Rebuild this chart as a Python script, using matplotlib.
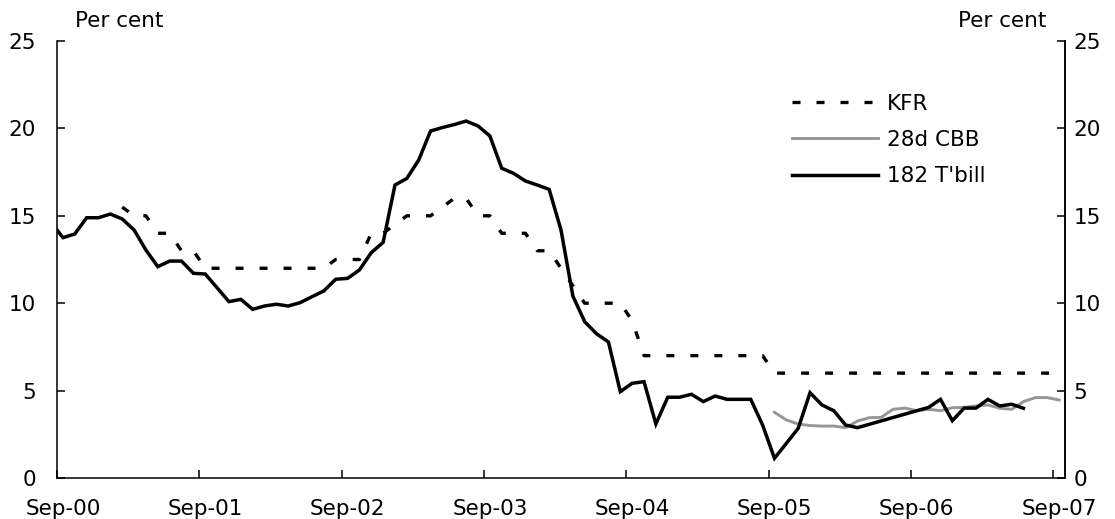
import numpy as np
import pandas as pd
import matplotlib
matplotlib.use("Agg")
import matplotlib.pyplot as plt

plt.rcParams["font.family"] = ["DejaVu Sans"]

# Monthly series (months counted from Sep-00)
tbill_start = pd.Period("2000-08", "M")
tbill = [14.63, 13.75, 13.96, 14.89, 14.89, 15.10, 14.82, 14.19, 13.04, 12.09,
         12.41, 12.41, 11.71, 11.67, 10.88, 10.09, 10.22, 9.65, 9.84, 9.94,
         9.84, 10.03, 10.37, 10.70, 11.37, 11.42, 11.90, 12.89, 13.48, 16.76,
         17.14, 18.19, 19.85, 20.05, 20.22, 20.42, 20.14, 19.57, 17.72, 17.43,
         16.99, 16.76, 16.51, 14.19, 10.41, 8.94, 8.25, 7.78, 4.94, 5.42,
         5.51, 3.09, 4.62, 4.62, 4.79, 4.37, 4.69, 4.50, 4.50, 4.50,
         3.03, 1.13, 1.98, 2.84, 4.88, 4.18, 3.85, 3.03, 2.88, None,
         None, None, None, None, 4.04, 4.50, 3.28, 4.00, 4.00, 4.50,
         4.12, 4.22, 3.99]

kfr_start = pd.Period("2001-02", "M")
kfr = [15.5, 15.0, 15.0, 14.0, 14.0, 13.0, 13.0,
       12.0, 12.0, 12.0, 12.0, 12.0, 12.0, 12.0, 12.0, 12.0, 12.0, 12.0,
       12.5, 12.5, 12.5, 14.0, 14.0, 14.5, 15.0, 15.0, 15.0, 15.5, 16.0, 16.0,
       15.0, 15.0, 14.0, 14.0, 14.0, 13.0, 13.0, 12.0, 11.0, 10.0,
       10.0, 10.0, 10.0, 9.0,
       7.0, 7.0, 7.0, 7.0, 7.0, 7.0, 7.0, 7.0, 7.0, 7.0, 7.0,
       6.0, 6.0, 6.0, 6.0, 6.0, 6.0, 6.0, 6.0, 6.0, 6.0, 6.0, 6.0,
       6.0, 6.0, 6.0, 6.0, 6.0, 6.0, 6.0, 6.0, 6.0, 6.0, 6.0, 6.0, 6.0]

cbb_start = pd.Period("2005-09", "M")
cbb = [3.76, 3.32, 3.09, 3.00, 2.97, 2.97, 2.88, 3.26, 3.45, 3.47,
       3.93, 4.00, 3.85, 3.93, 3.85, 4.02, 4.04, 4.12, 4.18, 3.99,
       3.93, 4.37, 4.60, 4.60, 4.46]

tick_labels = ["Sep-00", "Sep-01", "Sep-02", "Sep-03",
               "Sep-04", "Sep-05", "Sep-06", "Sep-07"]

origin = pd.Period("2000-09", "M")
FS = 15.5


def month_pos(start, n):
    # each monthly observation sits in the middle of its month
    first = (start - origin).n
    return np.arange(first, first + n) + 0.5


fig = plt.figure(figsize=(11.15, 5.19), dpi=100)
ax = fig.add_axes([0.05112, 0.0790, 0.90404, 0.8420])

x_t = month_pos(tbill_start, len(tbill))
y_t = np.array([np.nan if v is None else v for v in tbill], dtype=float)
ok = ~np.isnan(y_t)

x_k = month_pos(kfr_start, len(kfr))
x_c = month_pos(cbb_start, len(cbb))

ax.plot(x_k, kfr, color="black", lw=2.4, linestyle=(0, (2.4, 4.8)),
        dash_capstyle="butt", label="KFR", zorder=3)
ax.plot(x_c, cbb, color="#969696", lw=2.1, label="28d CBB", zorder=2)
ax.plot(x_t[ok], y_t[ok], color="black", lw=2.5, label="182 T'bill",
        solid_joinstyle="miter", zorder=4)

ax.set_xlim(0, 85)
ax.set_ylim(0, 25)

ax.spines["top"].set_visible(False)
for side in ("left", "bottom", "right"):
    ax.spines[side].set_linewidth(1.1)

n_years = len(tick_labels)
ax.set_xticks(np.arange(n_years) * 12)
ax.set_xticklabels([])
ax.set_xticks(np.arange(n_years) * 12 + 0.5, minor=True)
ax.set_xticklabels(tick_labels, minor=True)
ax.tick_params(axis="x", which="major", direction="in", length=6, width=1.1)
ax.tick_params(axis="x", which="minor", length=0, pad=15, labelsize=FS)

ax.set_yticks(np.arange(0, 26, 5))
ax.tick_params(axis="y", direction="in", length=6, width=1.1, pad=15,
               labelsize=FS)

ax2 = ax.twinx()
ax2.set_ylim(0, 25)
ax2.set_yticks(np.arange(0, 26, 5))
ax2.tick_params(axis="y", direction="in", length=6, width=1.1, pad=6,
                labelsize=FS)
for side in ("top", "left", "bottom"):
    ax2.spines[side].set_visible(False)
ax2.spines["right"].set_linewidth(1.1)

fig.text(0.0670, 0.9595, "Per cent", fontsize=FS, ha="left", va="center")
fig.text(0.9385, 0.9595, "Per cent", fontsize=FS, ha="right", va="center")

leg = ax.legend(loc="center left", bbox_to_anchor=(792 / 1115, 1 - 140 / 519),
                bbox_transform=fig.transFigure, frameon=False, fontsize=FS,
                handlelength=4.0, handletextpad=0.42, labelspacing=0.75,
                borderpad=0, borderaxespad=0)

fig.savefig("out.png", dpi=100, facecolor="white")
